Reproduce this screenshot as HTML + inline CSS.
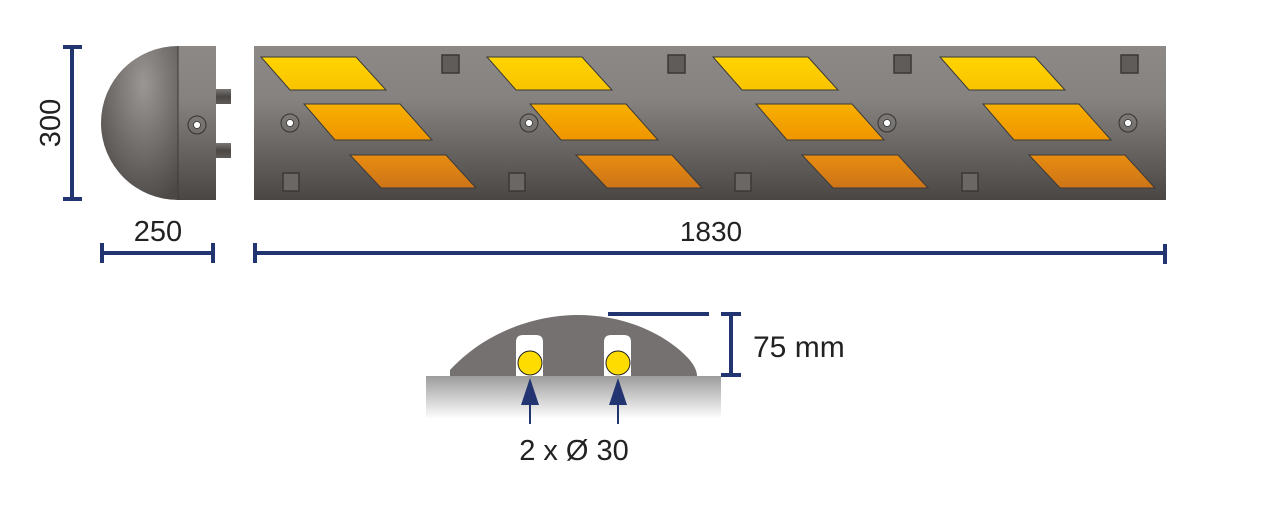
<!DOCTYPE html>
<html><head><meta charset="utf-8"><style>
html,body{margin:0;padding:0;background:#fff;width:1288px;height:516px;overflow:hidden}
svg text{font-family:"Liberation Sans",sans-serif;fill:#222}
</style></head><body>
<svg width="1288" height="516" viewBox="0 0 1288 516" xmlns="http://www.w3.org/2000/svg">
<defs>
<linearGradient id="g" x1="0" y1="0" x2="0" y2="1">
<stop offset="0" stop-color="#8c8987"/><stop offset="0.35" stop-color="#85827f"/><stop offset="1" stop-color="#4a4644"/></linearGradient>
<radialGradient id="dome" cx="0.55" cy="0.25" r="0.8">
<stop offset="0" stop-color="#9a9795"/><stop offset="1" stop-color="#4c4846"/></radialGradient>
<linearGradient id="y1" x1="0" y1="0" x2="0" y2="1"><stop offset="0" stop-color="#ffd400"/><stop offset="1" stop-color="#f9c300"/></linearGradient>
<linearGradient id="y2" x1="0" y1="0" x2="0" y2="1"><stop offset="0" stop-color="#f8b000"/><stop offset="1" stop-color="#ef9500"/></linearGradient>
<linearGradient id="y3" x1="0" y1="0" x2="0" y2="1"><stop offset="0" stop-color="#e88d10"/><stop offset="1" stop-color="#cc7418"/></linearGradient>
<linearGradient id="gr" x1="0" y1="0" x2="0" y2="1"><stop offset="0" stop-color="#9c9c9c"/><stop offset="1" stop-color="#ffffff"/></linearGradient>
<linearGradient id="pin" x1="0" y1="0" x2="0" y2="1"><stop offset="0" stop-color="#7a7775"/><stop offset="0.5" stop-color="#4a4745"/><stop offset="1" stop-color="#5e5a58"/></linearGradient>
<g id="set">
<polygon points="261,57 356,57 386,90 290,90" fill="url(#y1)" stroke="#3a3a3a" stroke-width="1"/>
<polygon points="304,104 400,104 432,140 335,140" fill="url(#y2)" stroke="#3a3a3a" stroke-width="1"/>
<polygon points="350,155 446,155 476,188 381,188" fill="url(#y3)" stroke="#3a3a3a" stroke-width="1"/>
<rect x="442" y="55" width="17" height="18" fill="#5f5c5a" stroke="#3a3836" stroke-width="1.5"/>
<rect x="283" y="173" width="16" height="18" fill="#6a6765" stroke="#3a3836" stroke-width="1.5"/>
</g>
<g id="hole"><circle r="9" fill="none" stroke="#333" stroke-width="1"/><circle r="3.5" fill="#fff" stroke="#333" stroke-width="0.8"/></g>
</defs>

<!-- end cap -->
<path d="M178,46 A77,77 0 0 0 178,200 Z" fill="url(#dome)"/>
<rect x="178" y="46" width="38" height="154" fill="url(#g)"/>
<line x1="178" y1="46" x2="178" y2="200" stroke="#3e3b39" stroke-width="1"/>
<rect x="216" y="89" width="15" height="15" fill="url(#pin)"/>
<rect x="216" y="143" width="15" height="15" fill="url(#pin)"/>
<use href="#hole" x="197" y="125"/>

<!-- main bar -->
<rect x="254" y="46" width="912" height="154" fill="url(#g)"/>
<use href="#set"/>
<use href="#set" x="226"/>
<use href="#set" x="452"/>
<use href="#set" x="679"/>
<use href="#hole" x="290" y="123"/>
<use href="#hole" x="529" y="123"/>
<use href="#hole" x="887" y="123"/>
<use href="#hole" x="1128" y="123"/>

<!-- dimensions -->
<g fill="#233571">
<rect x="70" y="46" width="4" height="154"/>
<rect x="63" y="45" width="19" height="4"/>
<rect x="63" y="197" width="19" height="4"/>
<rect x="101" y="251" width="113" height="4"/>
<rect x="100" y="243" width="4" height="20"/>
<rect x="211" y="243" width="4" height="20"/>
<rect x="254" y="251" width="912" height="4"/>
<rect x="253" y="243" width="4" height="20"/>
<rect x="1163" y="244" width="4" height="20"/>
</g>
<text x="0" y="0" font-size="29" text-anchor="middle" transform="translate(60,123) rotate(-90)">300</text>
<text x="158" y="241" font-size="29" text-anchor="middle">250</text>
<text x="711" y="241" font-size="28" text-anchor="middle">1830</text>

<!-- cross section -->
<rect x="426" y="376" width="295" height="43" fill="url(#gr)"/>
<path d="M450,376 L450,370 C485,332 535,315 578,315 C625,315 665,334 688,358 Q697,368 697,376 Z" fill="#757170"/>
<path d="M516,376 L516,342 Q516,335 523,335 L536,335 Q543,335 543,342 L543,376 Z" fill="#fff"/>
<path d="M604,376 L604,342 Q604,335 611,335 L624,335 Q631,335 631,342 L631,376 Z" fill="#fff"/>
<circle cx="530" cy="363" r="12" fill="#ffdc00" stroke="#222" stroke-width="1"/>
<circle cx="618" cy="363" r="12" fill="#ffdc00" stroke="#222" stroke-width="1"/>
<g fill="#233571">
<rect x="529" y="395" width="2" height="29"/>
<polygon points="530,378 521,405 539,405"/>
<rect x="617" y="395" width="2" height="29"/>
<polygon points="618,378 609,405 627,405"/>
<rect x="608" y="312" width="101" height="4"/>
<rect x="729" y="314" width="4" height="62"/>
<rect x="721" y="312" width="20" height="4"/>
<rect x="721" y="373" width="20" height="4"/>
</g>
<text x="753" y="357" font-size="30">75 mm</text>
<text x="574" y="460" font-size="29" text-anchor="middle">2 x Ø 30</text>
</svg>
</body></html>
